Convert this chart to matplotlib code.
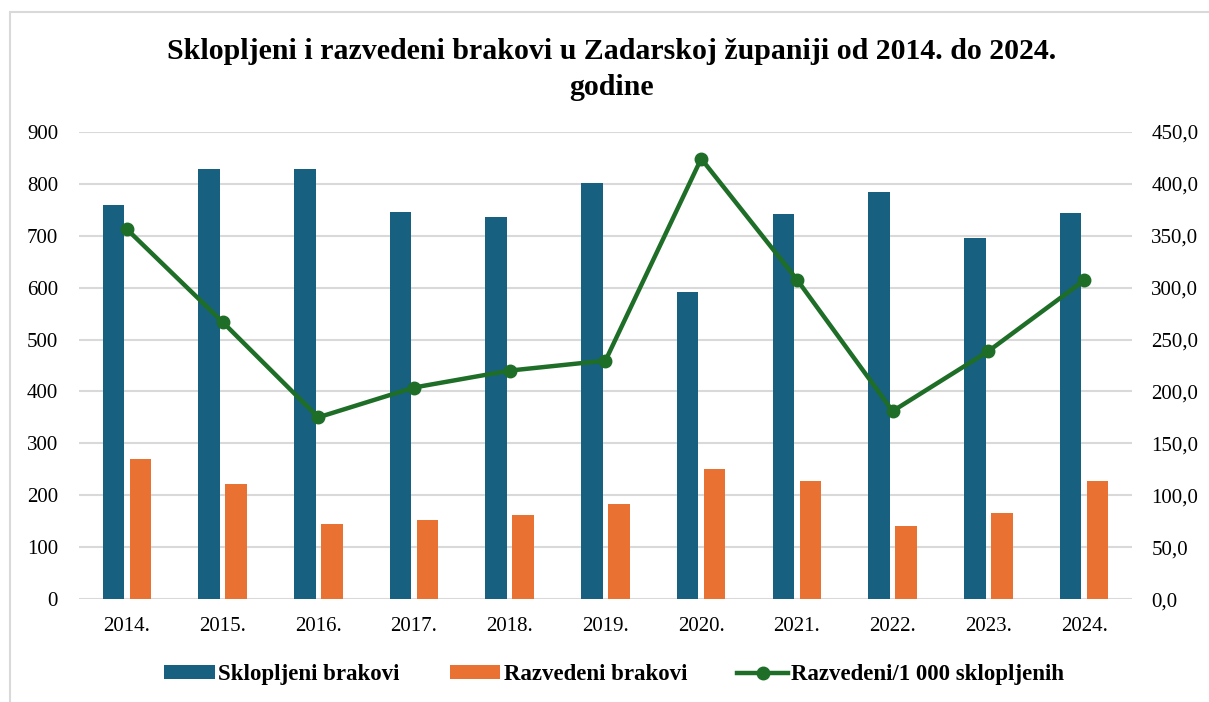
#!/usr/bin/env python3
"""
Sklopljeni i razvedeni brakovi u Zadarskoj zupaniji, 2014.-2024.
"""

import matplotlib.pyplot as plt
import numpy as np
from matplotlib.patches import Rectangle

plt.rcParams["font.family"] = ["Liberation Serif", "DejaVu Serif"]

# Data
years = ["2014.", "2015.", "2016.", "2017.", "2018.", "2019.",
         "2020.", "2021.", "2022.", "2023.", "2024."]
sklopljeni = [758, 828, 828, 746, 736, 801, 592, 741, 784, 695, 743]
razvedeni = [270, 221, 145, 152, 162, 184, 251, 228, 142, 166, 228]
na_1000 = [356.2, 266.9, 175.1, 203.8, 220.1, 229.7, 424.0, 307.7, 181.1, 238.8, 306.9]

left_ticks = list(range(0, 901, 100))
right_ticks = list(range(0, 451, 50))

blue = "#17607f"
orange = "#e97132"
green = "#1e6e28"
grid_col = "#d9d9d9"

fig = plt.figure(figsize=(12.09, 7.02), dpi=100)
ax1 = fig.add_axes([0.0653, 0.1463, 0.871, 0.6661])
ax2 = ax1.twinx()

x = np.arange(len(years))
w = 0.225
off = 0.141

b1 = ax1.bar(x - off, sklopljeni, w, color=blue, label="Sklopljeni brakovi", zorder=2)
b2 = ax1.bar(x + off, razvedeni, w, color=orange, label="Razvedeni brakovi", zorder=2)
(l1,) = ax2.plot(x, na_1000, color=green, linewidth=3.2, marker="o", markersize=9,
                 label="Razvedeni/1 000 sklopljenih", zorder=3)

ax1.set_xlim(-0.5, len(years) - 0.5)
ax1.set_ylim(0, 900)
ax2.set_ylim(0, 450)
ax1.set_yticks(left_ticks)
ax2.set_yticks(right_ticks)
ax2.set_yticklabels([f"{v:.1f}".replace(".", ",") for v in right_ticks])
ax1.set_xticks(x)
ax1.set_xticklabels(years)

ax1.yaxis.grid(True, color=grid_col, linewidth=1.5, zorder=0)
ax1.set_axisbelow(True)
for ax in (ax1, ax2):
    for s in ax.spines.values():
        s.set_visible(False)
ax1.tick_params(axis="y", length=0, pad=15, labelsize=15)
ax1.tick_params(axis="x", length=0, pad=13, labelsize=15)
ax2.tick_params(axis="y", length=0, pad=14, labelsize=15)

fig.text(0.506, 0.901,
         "Sklopljeni i razvedeni brakovi u Zadarskoj županiji od 2014. do 2024.\ngodine",
         ha="center", va="center", fontsize=21.5, fontweight="bold", linespacing=1.4)

fig.legend(handles=[b1, b2, l1], loc="center", bbox_to_anchor=(0.508, 0.0385), ncol=3,
           frameon=False, prop={"size": 16.5, "weight": "bold"},
           handlelength=2.2, handleheight=0.55, handletextpad=0.15, columnspacing=2.2)

fig.patches.append(Rectangle((10 / 1209, -0.05), 1.0, 0.983 + 0.05,
                             transform=fig.transFigure, fill=False,
                             edgecolor=grid_col, linewidth=1.5))

plt.savefig("out.png", dpi=100, facecolor="white")
plt.close()
